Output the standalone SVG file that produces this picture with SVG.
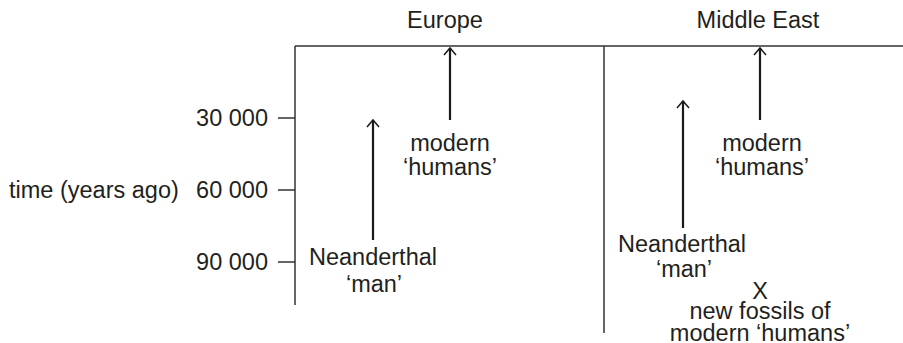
<svg xmlns="http://www.w3.org/2000/svg" width="903" height="343" viewBox="0 0 903 343">
<defs>
<style>
text{font-family:"Liberation Sans",Arial,sans-serif;font-size:23.5px;fill:#231f20}
.m{text-anchor:middle}
.r{text-anchor:end}
.ax{stroke:#333;stroke-width:1.5;fill:none}
.ar{stroke:#1a1a1a;stroke-width:2.2;fill:none}
</style>
<marker id="h" markerWidth="12" markerHeight="16" refX="10" refY="8" orient="auto" markerUnits="userSpaceOnUse" viewBox="0 0 12 16">
<path d="M3,2 L10,8 L3,14" fill="none" stroke="#1a1a1a" stroke-width="1.5"/>
</marker>
</defs>
<g id="axes">
<line class="ax" x1="295" y1="46" x2="903" y2="46"/>
<line class="ax" x1="295" y1="46" x2="295" y2="305"/>
<line class="ax" x1="604" y1="46" x2="604" y2="333"/>
<line class="ax" x1="278" y1="118" x2="295" y2="118"/>
<line class="ax" x1="278" y1="190" x2="295" y2="190"/>
<line class="ax" x1="278" y1="262" x2="295" y2="262"/>
</g>
<g id="headers">
<text class="m" x="445" y="28">Europe</text>
<text class="m" x="758" y="28">Middle East</text>
</g>
<g id="scale">
<text x="9" y="198">time (years ago)</text>
<text class="r" x="268" y="126">30 000</text>
<text class="r" x="268" y="198">60 000</text>
<text class="r" x="268" y="270">90 000</text>
</g>
<g id="connectors">
<path class="ar" d="M450,120 V48" marker-end="url(#h)"/>
<path class="ar" d="M373,240 V120" marker-end="url(#h)"/>
<path class="ar" d="M760,120 V48" marker-end="url(#h)"/>
<path class="ar" d="M683,228 V101" marker-end="url(#h)"/>
</g>
<g id="eu-modern">
<text class="m" x="450" y="151">modern</text>
<text class="m" x="450" y="175">‘humans’</text>
</g>
<g id="eu-neanderthal">
<text class="m" x="373" y="265">Neanderthal</text>
<text class="m" x="374" y="292">‘man’</text>
</g>
<g id="me-modern">
<text class="m" x="762" y="151">modern</text>
<text class="m" x="762" y="175">‘humans’</text>
</g>
<g id="me-neanderthal">
<text class="m" x="682" y="252">Neanderthal</text>
<text class="m" x="684" y="277">‘man’</text>
</g>
<g id="me-fossils">
<text class="m" x="760" y="299">X</text>
<text class="m" x="760" y="319">new fossils of</text>
<text class="m" x="760" y="341">modern ‘humans’</text>
</g>
</svg>
